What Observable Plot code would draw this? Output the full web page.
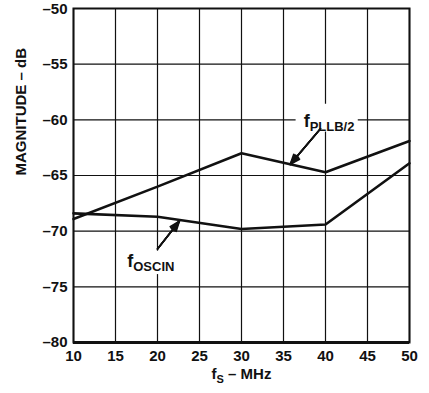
<!DOCTYPE html>
<html><head><meta charset="utf-8">
<script src="https://cdn.jsdelivr.net/npm/d3@7"></script>
<script src="https://cdn.jsdelivr.net/npm/@observablehq/plot@0.6"></script>
<style>body{margin:0;background:#fff}</style>
</head><body><div id="chart"></div>
<script>
// Data
const freqs = [10, 20, 30, 40, 50];
const pllb = [-68.9, -66.0, -63.0, -64.7, -61.9];
const oscin = [-68.4, -68.7, -69.8, -69.4, -63.9];
const xTicks = [10, 15, 20, 25, 30, 35, 40, 45, 50];
const yTicks = [-80, -75, -70, -65, -60, -55, -50];
const xTitle = "f_{S} – MHz";
const yTitle = "MAGNITUDE – dB";
const labelText = ["f_{PLLB/2}", "f_{OSCIN}"];
const labelX = [37.4, 16.4];
const labelY = [-60.1, -72.7];
const boxX1 = [36.5, 16.1], boxX2 = [43.9, 22.3];
const boxY1 = [-58.6, -71.8], boxY2 = [-61.1, -73.9];
const arrowX1 = [39.4, 20.0], arrowY1 = [-60.8, -71.6];
const arrowX2 = [35.8, 22.6], arrowY2 = [-64.0, -69.1];

const rows = [];
freqs.forEach((f, i) => {
  rows.push({series: "PLLB/2", f, v: pllb[i]});
  rows.push({series: "OSCIN", f, v: oscin[i]});
});
const labels = labelText.map((t, i) => ({text: t, x: labelX[i], y: labelY[i]}));
const boxes = boxX1.map((_, i) => ({x1: boxX1[i], x2: boxX2[i], y1: boxY1[i], y2: boxY2[i]}));
const arrows = arrowX1.map((_, i) => ({x1: arrowX1[i], y1: arrowY1[i], x2: arrowX2[i], y2: arrowY2[i]}));
const fmt = d => d < 0 ? "–" + Math.abs(d) : String(d);
const topTick = yTicks.filter(d => d === d3.max(yTicks));
const otherTicks = yTicks.filter(d => d !== d3.max(yTicks));

const arrowMarks = [42, 30, 18, 8].map(a => Plot.arrow(arrows, {
  x1: "x1", y1: "y1", x2: "x2", y2: "y2",
  stroke: "#111", strokeWidth: 1.6, headLength: 10, headAngle: a
}));

const chart = Plot.plot({
  width: 429, height: 393,
  marginLeft: 73, marginRight: 20, marginTop: 8, marginBottom: 51,
  style: {fontFamily: "'Liberation Sans', Arial, sans-serif", fontWeight: "bold", background: "#fff", color: "#111"},
  x: {domain: [10, 50], label: null},
  y: {domain: [-80, -50], label: null},
  marks: [
    Plot.gridX(xTicks, {stroke: "#111", strokeOpacity: 1, strokeWidth: 1.2}),
    Plot.gridY(yTicks, {stroke: "#111", strokeOpacity: 1, strokeWidth: 1.2}),
    Plot.rect(boxes, {x1: "x1", x2: "x2", y1: "y1", y2: "y2", fill: "white"}),
    Plot.frame({stroke: "#111", strokeWidth: 2}),
    Plot.ruleY([-80], {stroke: "#111", strokeWidth: 3}),
    Plot.axisX(xTicks, {tickSize: 0, tickPadding: 8, tickFormat: fmt, fontSize: 15, label: null}),
    Plot.axisY(otherTicks, {tickSize: 0, tickPadding: 6, tickFormat: fmt, fontSize: 15, label: null}),
    Plot.axisY(topTick, {tickSize: 0, tickPadding: 6, tickFormat: fmt, fontSize: 15, label: null, lineAnchor: "top", dy: -5}),
    Plot.line(rows, {x: "f", y: "v", z: "series", stroke: "#111", strokeWidth: 2.6, strokeLinejoin: "miter"}),
    ...arrowMarks,
    Plot.text(labels, {x: "x", y: "y", text: "text", textAnchor: "start", fontSize: 18, fill: "#111"}),
    Plot.text([xTitle], {frameAnchor: "bottom", dy: 36, fontSize: 15, fill: "#111"}),
    Plot.text([yTitle], {frameAnchor: "left", rotate: -90, dx: -52, fontSize: 15, fill: "#111"})
  ]
});

// turn "a_{b}c" into real subscript tspans
chart.querySelectorAll("text").forEach(t => {
  const m = t.textContent.match(/^(.*?)_\{(.+?)\}(.*)$/);
  if (!m) return;
  const g = t.closest("[font-size]");
  const base = g ? parseFloat(g.getAttribute("font-size")) : 15;
  const sub = Math.round(base * 0.72);
  const shift = Math.round(base * 0.24);
  t.textContent = "";
  const ns = "http://www.w3.org/2000/svg";
  const a = document.createElementNS(ns, "tspan"); a.textContent = m[1]; t.appendChild(a);
  const b = document.createElementNS(ns, "tspan"); b.textContent = m[2];
  b.setAttribute("font-size", sub); b.setAttribute("dy", shift); t.appendChild(b);
  if (m[3]) {
    const c = document.createElementNS(ns, "tspan"); c.textContent = m[3];
    c.setAttribute("dy", -shift); t.appendChild(c);
  }
});
document.getElementById("chart").appendChild(chart);
</script>
</body></html>
